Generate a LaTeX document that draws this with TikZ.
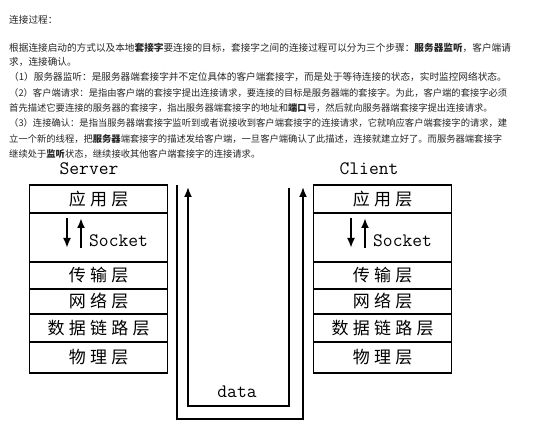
\documentclass[tikz,border=0pt]{standalone}
\usepackage{fontspec}
\setmainfont{Noto Sans CJK SC}
\newfontfamily\layerfont{Noto Sans CJK SC}[LetterSpace=25]
\usetikzlibrary{arrows.meta,positioning}

\begin{document}
\begin{tikzpicture}
                    [x=1pt, y=-1pt, >={Latex[length=10pt,width=8pt]}]
                    \tikzset{layer/.style = {draw, line width=1.8pt, minimum width=138pt,
                                             inner sep=0pt, outer sep=0pt,
                                             font=\layerfont\fontsize{17}{17}\selectfont},
                             para/.style  = {anchor=west, inner sep=0pt, text=black!85,
                                             font=\fontsize{9.65}{12}\selectfont},
                             parb/.style  = {para, font=\fontsize{9.3}{12}\selectfont},
                             lbl/.style   = {inner sep=0pt, font=\ttfamily\fontsize{19}{19}\selectfont},
                             data/.style  = {line width=1.8pt, ->},
                             sock/.style  = {line width=2.6pt, ->}}
                    \useasboundingbox (0,0) rectangle (560,427);

                    % text above the picture
                    \node[para] (t1) at (9,20)  {连接过程：};
                    \node[para] (t2) at (9,48)  {根据连接启动的方式以及本地\textbf{套接字}要连接的目标，套接字之间的连接过程可以分为三个步骤：\textbf{服务器监听}，客户端请};
                    \node[para] (t3) at (9,62)  {求，连接确认。};
                    \node[para] (t4) at (9,77)  {（1）服务器监听：是服务器端套接字并不定位具体的客户端套接字，而是处于等待连接的状态，实时监控网络状态。};
                    \node[parb] (t5) at (9,93)  {（2）客户端请求：是指由客户端的套接字提出连接请求，要连接的目标是服务器端的套接字。为此，客户端的套接字必须};
                    \node[parb] (t6) at (9,108) {首先描述它要连接的服务器的套接字，指出服务器端套接字的地址和\textbf{端口}号，然后就向服务器端套接字提出连接请求。};
                    \node[parb] (t7) at (9,123) {（3）连接确认：是指当服务器端套接字监听到或者说接收到客户端套接字的连接请求，它就响应客户端套接字的请求，建};
                    \node[parb] (t8) at (9,139) {立一个新的线程，把\textbf{服务器}端套接字的描述发给客户端，一旦客户端确认了此描述，连接就建立好了。而服务器端套接字};
                    \node[parb] (t9) at (9,154) {继续处于\textbf{监听}状态，继续接收其他客户端套接字的连接请求。};

                    % the two stacks
                    \node[lbl] (server) at (89,169)  {Server};
                    \node[lbl] (client) at (369,169) {Client};
                    \foreach \i/\y/\h/\txt in {1/199/28/应用层, 2/237.5/49/{}, 3/275.5/27/传输层,
                                                4/301.5/25/网络层, 5/328/28/数据链路层, 6/357.5/31/物理层}
                    {
                        \node[layer, minimum height=\h pt] (s\i) at (98.5,\y)  {\txt};
                        \node[layer, minimum height=\h pt] (c\i) at (382.5,\y) {\txt};
                    }

                    % socket arrows
                    \foreach \s/\dx in {s/0, c/284}
                    {
                        \node[lbl, anchor=west] (\s-sock) at (89+\dx,241) {Socket};
                        \coordinate (\s-dn-top) at (67+\dx,218);
                        \coordinate (\s-dn-bot) at (67+\dx,248);
                        \coordinate (\s-up-bot) at (81+\dx,248);
                        \coordinate (\s-up-top) at (81+\dx,218);
                        \draw[sock] (\s-dn-top) -- (\s-dn-bot);
                        \draw[sock] (\s-up-bot) -- (\s-up-top);
                    }

                    % data path
                    \coordinate (s-out) at (177,185);
                    \coordinate (s-in)  at (188,187);
                    \coordinate (c-in)  at (289,188);
                    \coordinate (c-out) at (303,187);
                    \draw[data] (s-out) -- ++(0,234) -| (c-out);
                    \draw[data] (c-in) -- ++(0,218) -| (s-in);
                    \node[lbl] (data) at (237,392) {data};
                \end{tikzpicture}
\end{document}
